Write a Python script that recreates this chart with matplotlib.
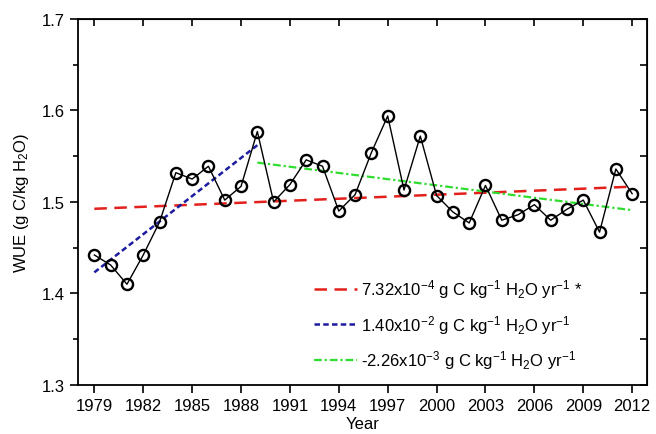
import matplotlib
matplotlib.use('Agg')
import matplotlib.pyplot as plt
import numpy as np
from matplotlib.ticker import MultipleLocator

plt.rcParams['font.family'] = ['Liberation Sans', 'DejaVu Sans']
plt.rcParams['mathtext.fontset'] = 'custom'
plt.rcParams['mathtext.rm'] = 'Liberation Sans'
plt.rcParams['mathtext.it'] = 'Liberation Sans'
plt.rcParams['mathtext.default'] = 'regular'

# ─── данные ───
years = list(range(1979, 2013))
wue = [1.442, 1.431, 1.410, 1.442, 1.478, 1.532, 1.525, 1.539, 1.502, 1.517,
       1.577, 1.500, 1.519, 1.546, 1.539, 1.490, 1.508, 1.554, 1.594, 1.513,
       1.572, 1.507, 1.489, 1.477, 1.518, 1.480, 1.486, 1.497, 1.480, 1.492,
       1.502, 1.467, 1.536, 1.509]

# тренды: концы линий
trend_all_x = [1979, 2012]
trend_all_y = [1.4925, 1.5167]
trend_early_x = [1979, 1989]
trend_early_y = [1.423, 1.562]
trend_late_x = [1989, 2012]
trend_late_y = [1.543, 1.491]

labels = [r'7.32x10$^{-4}$ g C kg$^{-1}$ H$_2$O yr$^{-1}$ *',
          r'1.40x10$^{-2}$ g C kg$^{-1}$ H$_2$O yr$^{-1}$',
          r'-2.26x10$^{-3}$ g C kg$^{-1}$ H$_2$O yr$^{-1}$']

fig = plt.figure(figsize=(6.56, 4.35), dpi=100, facecolor='white')
ax = fig.add_axes([0.119, 0.113, 0.867, 0.841])

ax.plot(years, wue, color='black', lw=1.0, marker='o', ms=8,
        mfc='none', mec='black', mew=1.7, zorder=3)

l1, = ax.plot(trend_all_x, trend_all_y, color='#e3201b', lw=1.8,
              dashes=(5, 3), zorder=2)
l2, = ax.plot(trend_early_x, trend_early_y, color='#1c1ca0', lw=1.8,
              dashes=(2.2, 1.3), zorder=2)
l3, = ax.plot(trend_late_x, trend_late_y, color='#2fdc2f', lw=1.6,
              dashes=(3.5, 1.3, 1, 1.3), zorder=2)

ax.set_xlim(1978, 2012.9)
ax.set_ylim(1.3, 1.7)
ax.set_xticks(years[::3])
ax.yaxis.set_major_locator(MultipleLocator(0.1))
ax.yaxis.set_minor_locator(MultipleLocator(0.05))
ax.yaxis.set_major_formatter(matplotlib.ticker.FormatStrFormatter('%.1f'))

for s in ax.spines.values():
    s.set_linewidth(1.3)
ax.tick_params(axis='both', which='major', direction='out', length=6,
               width=1.2, labelsize=12)
ax.tick_params(axis='y', which='minor', direction='out', length=3.5, width=1.2)

top = ax.secondary_xaxis('top')
top.set_xticks(years[::3])
top.tick_params(direction='in', length=5, width=1.2, labeltop=False)
right = ax.secondary_yaxis('right')
right.yaxis.set_major_locator(MultipleLocator(0.1))
right.yaxis.set_minor_locator(MultipleLocator(0.05))
right.tick_params(which='both', direction='in', length=5, width=1.2,
                  labelright=False)

ax.set_xlabel('Year', fontsize=12, labelpad=2)
ax.set_ylabel('WUE (g C/kg H$_2$O)', fontsize=12, labelpad=8)

ax.legend([l1, l2, l3], labels, loc='upper left',
          bbox_to_anchor=(0.478, 0.36), bbox_transform=fig.transFigure,
          frameon=False, fontsize=12, handlelength=2.6, handletextpad=0.25,
          labelspacing=0.75, borderpad=0, borderaxespad=0)

plt.savefig('out.png', dpi=100, facecolor='white')
